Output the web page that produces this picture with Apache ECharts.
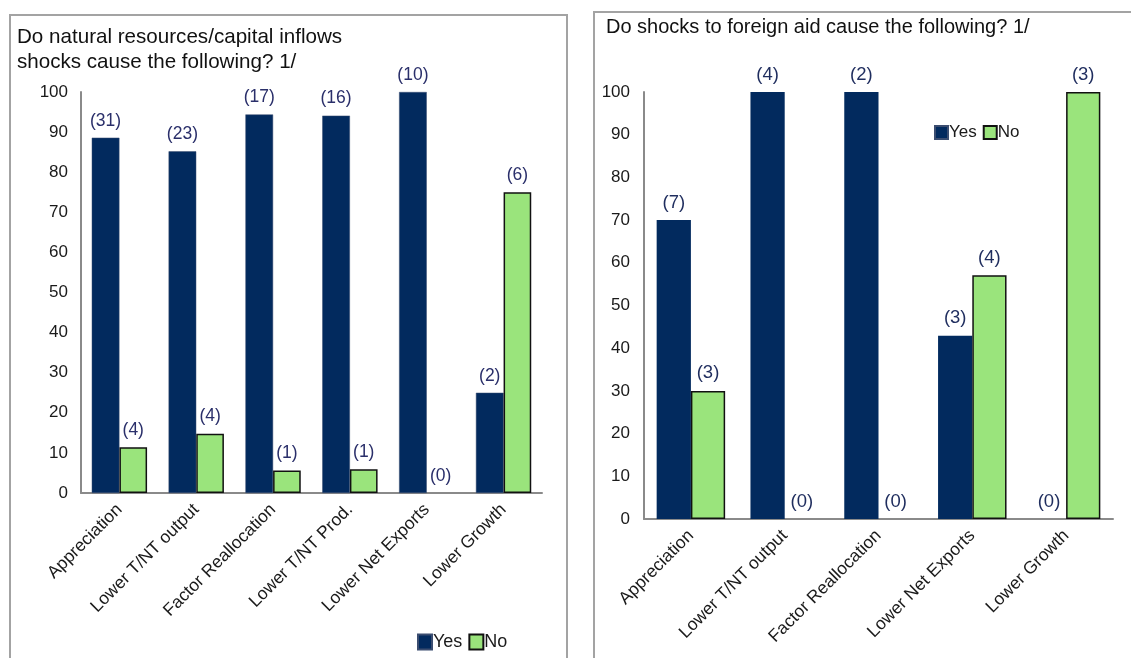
<!DOCTYPE html>
<html>
<head>
<meta charset="utf-8">
<script src="https://cdn.jsdelivr.net/npm/echarts@6/dist/echarts.min.js"></script>
<style>
  html, body { margin: 0; padding: 0; background: #fff; }
  #chart { width: 1131px; height: 658px; }
</style>
</head>
<body>
<div id="chart"></div>
<script>
// Left panel: natural resources / capital inflows shocks (share of responses, %)
const leftCategories = ['Appreciation', 'Lower T/NT output', 'Factor Reallocation', 'Lower T/NT Prod.', 'Lower Net Exports', 'Lower Growth'];
const leftYes = [88.6, 85.2, 94.4, 94.1, 100, 25];
const leftNo = [11.4, 14.8, 5.6, 5.9, 0, 75];
const leftYesCounts = [31, 23, 17, 16, 10, 2];
const leftNoCounts = [4, 4, 1, 1, 0, 6];

// Right panel: foreign aid shocks (share of responses, %)
const rightCategories = ['Appreciation', 'Lower T/NT output', 'Factor Reallocation', 'Lower Net Exports', 'Lower Growth'];
const rightYes = [70, 100, 100, 42.9, 0];
const rightNo = [30, 0, 0, 57.1, 100];
const rightYesCounts = [7, 4, 2, 3, 0];
const rightNoCounts = [3, 0, 0, 4, 3];

const yTicks = { min: 0, max: 100, interval: 10 };

const leftTitle = ['Do natural resources/capital inflows', 'shocks cause the following? 1/'];
const rightTitle = 'Do shocks to foreign aid cause the following? 1/';

const FONT = '"Liberation Sans", Arial, sans-serif';
const NAVY = '#022a5e';
const GREEN = '#9ae47c';

const chart = echarts.init(document.getElementById('chart'), null, { renderer: 'canvas' });

function countLabel(counts, color, size) {
  return {
    show: true,
    position: 'top',
    distance: 8,
    fontFamily: FONT,
    fontSize: size,
    color: color,
    formatter: p => '(' + counts[p.dataIndex] + ')'
  };
}

// zero-height bars get no outline so only their count label shows
function barData(values) {
  return values.map(v => v === 0 ? { value: v, itemStyle: { borderWidth: 0 } } : v);
}

function yAxis(gridIndex, margin) {
  return {
    type: 'value', gridIndex,
    min: yTicks.min, max: yTicks.max, interval: yTicks.interval,
    axisLine: { show: true, lineStyle: { color: '#8a8a8a', width: 2 } },
    axisTick: { show: false },
    splitLine: { show: false },
    axisLabel: { fontFamily: FONT, fontSize: 17, color: '#1a1a1a', margin }
  };
}

function xAxis(gridIndex, data) {
  return {
    type: 'category', gridIndex, data,
    axisLine: { show: true, lineStyle: { color: '#8a8a8a', width: 2 } },
    axisTick: { show: false },
    axisLabel: { interval: 0, rotate: 45, fontFamily: FONT, fontSize: 17.5, color: '#1a1a1a', margin: 14 }
  };
}

const option = {
  backgroundColor: '#fff',
  animation: false,
  graphic: [
    { type: 'rect', shape: { x: 10, y: 15, width: 557, height: 700 }, style: { fill: 'none', stroke: '#a3a3a3', lineWidth: 2 } },
    { type: 'rect', shape: { x: 594, y: 12, width: 600, height: 700 }, style: { fill: 'none', stroke: '#a3a3a3', lineWidth: 2 } },
    { type: 'text', left: 17, top: 25, style: { text: leftTitle.join('\n'), font: '20.6px ' + FONT, fill: '#111', lineHeight: 25 } },
    { type: 'text', left: 606, top: 17, style: { text: rightTitle, font: '20px ' + FONT, fill: '#111' } }
  ],
  grid: [
    { left: 81, top: 92, right: 589, bottom: 165 },
    { left: 644, top: 92, right: 18, bottom: 139 }
  ],
  legend: [
    { data: ['Yes', 'No'], left: 412, top: 628, icon: 'rect', itemWidth: 14, itemHeight: 15, itemGap: 6,
      textStyle: { fontFamily: FONT, fontSize: 18, color: '#1a1a1a', padding: [0, 0, 0, -4] } },
    { data: ['Yes', 'No'], left: 929, top: 119, icon: 'rect', itemWidth: 13, itemHeight: 13, itemGap: 6,
      textStyle: { fontFamily: FONT, fontSize: 17, color: '#1a1a1a', padding: [0, 0, 0, -4] } }
  ],
  xAxis: [xAxis(0, leftCategories), xAxis(1, rightCategories)],
  yAxis: [yAxis(0, 13), yAxis(1, 14)],
  series: [
    { name: 'Yes', type: 'bar', xAxisIndex: 0, yAxisIndex: 0, data: barData(leftYes), barGap: '0%', barCategoryGap: '28%',
      itemStyle: { color: NAVY, borderColor: '#3b4d70', borderWidth: 0.5 }, label: countLabel(leftYesCounts, '#2a2f6a', 17.5) },
    { name: 'No', type: 'bar', xAxisIndex: 0, yAxisIndex: 0, data: barData(leftNo), barGap: '0%', barCategoryGap: '28%',
      itemStyle: { color: GREEN, borderColor: '#111', borderWidth: 1.5 }, label: countLabel(leftNoCounts, '#2a2f6a', 17.5) },
    { name: 'Yes', type: 'bar', xAxisIndex: 1, yAxisIndex: 1, data: barData(rightYes), barGap: '0%', barCategoryGap: '27%',
      itemStyle: { color: NAVY }, label: countLabel(rightYesCounts, '#1f2d5e', 18.5) },
    { name: 'No', type: 'bar', xAxisIndex: 1, yAxisIndex: 1, data: barData(rightNo), barGap: '0%', barCategoryGap: '27%',
      itemStyle: { color: GREEN, borderColor: '#111', borderWidth: 1.5 }, label: countLabel(rightNoCounts, '#1f2d5e', 18.5) }
  ]
};

chart.setOption(option);
</script>
</body>
</html>
